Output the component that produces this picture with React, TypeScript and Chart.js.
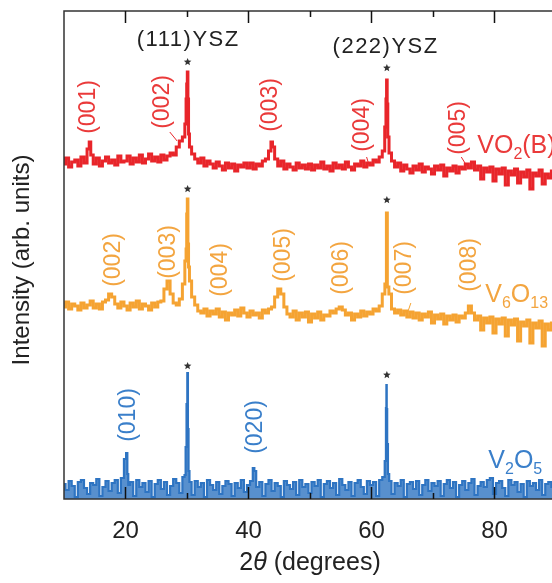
import React, { useEffect, useRef } from "react";
import { Chart, registerables } from "chart.js";

Chart.register(...registerables);

// 2θ grid: start 10°, step 0.5°
const twoThetaStart = 10;
const twoThetaStep = 0.5;
const twoThetaMin = 10;
const twoThetaMax = 89.35;
const tickValues = [20, 40, 60, 80];
const minorTickValues = [10, 30, 50, 70];

// intensities (arb. units, already offset per trace)
const redBase = [
  335, 341, 332, 337, 339, 333, 342, 336, 350, 344, 335, 341, 333, 338, 342, 336, 339, 334, 343, 337,
  338, 343, 335, 341, 337, 344, 336, 340, 345, 338, 342, 337, 344, 339, 343, 346, 344, 352, 358, 362,
  415, 352, 345, 340, 336, 341, 333, 338, 335, 331, 337, 333, 329, 336, 331, 335, 328, 334, 332, 336,
  331, 336, 330, 335, 333, 338, 340, 348, 352, 340, 333, 338, 330, 335, 332, 329, 336, 331, 334, 330,
  335, 329, 334, 331, 337, 330, 333, 328, 336, 331, 334, 330, 337, 332, 329, 335, 333, 338, 332, 336,
  334, 339, 337, 342, 348, 419, 346, 338, 332, 336, 328, 334, 330, 326, 333, 329, 335, 327, 332, 330,
  325, 333, 329, 334, 323, 331, 328, 333, 326, 332, 330, 335, 331, 337, 329, 333, 320, 331, 327, 332,
  318, 330, 325, 331, 314, 328, 324, 330, 316, 327, 322, 329, 310, 326, 323, 329, 315, 325, 321, 328, 318,
];
const redPeaks = [
  [14.2, 357], [29.8, 375], [29.9, 400], [30.1, 427], [30.2, 400], [30.3, 365],
  [43.8, 357], [62.3, 372], [62.4, 400], [62.6, 395], [62.7, 362],
];

const orangeBase = [
  192, 197, 190, 195, 193, 189, 196, 191, 194, 198, 191, 195, 190, 197, 199, 205, 202, 195, 191, 197,
  193, 189, 196, 192, 198, 190, 195, 193, 189, 196, 192, 197, 198, 210, 218, 205, 196, 194, 200, 215,
  285, 218, 202, 194, 188, 186, 190, 183, 188, 185, 190, 182, 187, 179, 186, 184, 189, 183, 191, 186,
  182, 188, 184, 186, 181, 189, 186, 190, 192, 202, 210, 205, 192, 185, 182, 188, 179, 186, 182, 187,
  177, 185, 181, 187, 179, 184, 183, 188, 186, 190, 192, 189, 184, 186, 179, 185, 182, 188, 183, 187,
  185, 190, 188, 193, 205, 286, 205, 190, 186, 189, 184, 188, 182, 187, 181, 186, 179, 185, 182, 187,
  176, 184, 180, 185, 175, 183, 179, 184, 177, 183, 181, 186, 193, 186, 179, 183, 169, 181, 176, 182,
  166, 180, 175, 181, 163, 179, 174, 180, 158, 177, 173, 179, 156, 176, 171, 178, 153, 175, 169, 176, 160,
];
const orangePeaks = [
  [29.8, 238], [29.9, 250], [30.1, 300], [30.2, 255], [30.3, 232],
  [62.35, 215], [62.65, 212],
];

const blueBase = [
  15, 9, 18, 13, 2, 17, 19, 11, 5, 16, 14, 20, 3, 12, 18, 8, 16, 19, 6, 21,
  40, 14, 17, 3, 19, 12, 16, 7, 18, 2, 15, 19, 10, 17, 4, 13, 20, 16, 6, 22,
  95, 17, 4, 18, 12, 16, 2, 19, 14, 9, 17, 5, 13, 18, 15, 3, 16, 11, 19, 7,
  14, 18, 28, 12, 17, 3, 15, 19, 8, 16, 13, 2, 18, 14, 10, 17, 4, 19, 12, 15,
  6, 17, 13, 19, 2, 15, 18, 11, 16, 4, 20, 14, 9, 17, 3, 16, 19, 12, 5, 18,
  14, 17, 3, 19, 22, 90, 18, 5, 16, 13, 19, 2, 15, 17, 10, 18, 4, 14, 19, 8,
  16, 13, 18, 3, 15, 19, 11, 17, 2, 14, 18, 9, 16, 20, 4, 13, 17, 12, 19, 21,
  5, 16, 18, 11, 3, 19, 14, 17, 7, 15, 2, 18, 13, 16, 9, 19, 4, 15, 17, 12, 14,
];
const bluePeaks = [
  [20.2, 46], [20.4, 25], [29.7, 24], [29.85, 52], [30.1, 126], [30.2, 70], [30.3, 28],
  [40.9, 31], [62.3, 38], [62.4, 91], [62.45, 114], [62.6, 55], [62.75, 25],
];

const seriesNames = ["VO2(B)", "V6O13", "V2O5"];
const seriesColors = ["#e8252a", "#f5a332", "#2e74c2"];
const blueFill = "rgba(46, 116, 194, 0.8)";
const labelColors = ["#ea3a3a", "#f3a540", "#3a7fca"];

// peak index labels: [text, 2θ, intensity]
const redLabels = [
  ["(001)", 14.0, 392], ["(002)", 26.0, 397], ["(003)", 43.6, 394], ["(004)", 58.5, 374], ["(005)", 74.1, 371],
];
const orangeLabels = [
  ["(002)", 18.0, 239], ["(003)", 27.0, 247], ["(004)", 35.4, 229], ["(005)", 45.7, 244],
  ["(006)", 55.1, 231], ["(007)", 65.4, 231], ["(008)", 75.9, 234],
];
const blueLabels = [["(010)", 20.5, 84], ["(020)", 41.1, 72]];

// leader lines [x1,y1],[x2,y2] in data units
const redLeaders = [[27.2, 367], [28.4, 358], [59.2, 342], [59.5, 336], [74.6, 342], [75.2, 336]];
const orangeLeaders = [[66.4, 196], [65.9, 187]];

// formula labels: parts [text, isSub], anchor 2θ, intensity (baseline)
const formulaParts = [
  [["VO", false], ["2", true], ["(B)", false]],
  [["V", false], ["6", true], ["O", false], ["13", true]],
  [["V", false], ["2", true], ["O", false], ["5", true]],
];
const formulaAnchors = [[77.2, 346], [78.5, 197], [79.0, 31]];

const starPositions = [[30.1, 437], [62.5, 431], [30.1, 310], [62.5, 299], [30.1, 133], [62.5, 124]];
const substrateLabels = [["(111)YSZ", 30.2, 453], ["(222)YSZ", 62.3, 446]];

const FONT = "'Liberation Sans', Arial, sans-serif";

function buildSeries(base: number[], peaks: number[][]) {
  const pts = base.map((y, i) => ({ x: twoThetaStart + i * twoThetaStep, y }));
  peaks.forEach(([x, y]) => pts.push({ x, y }));
  pts.sort((a, b) => a.x - b.x);
  return pts;
}

function drawStar(ctx: CanvasRenderingContext2D, cx: number, cy: number, r: number) {
  ctx.beginPath();
  for (let i = 0; i < 10; i++) {
    const ang = -Math.PI / 2 + (i * Math.PI) / 5;
    const rr = i % 2 === 0 ? r : r * 0.45;
    const px = cx + rr * Math.cos(ang);
    const py = cy + rr * Math.sin(ang);
    if (i === 0) ctx.moveTo(px, py);
    else ctx.lineTo(px, py);
  }
  ctx.closePath();
  ctx.fill();
}

const decorPlugin = {
  id: "decor",
  afterDraw(chart: any) {
    const ctx: CanvasRenderingContext2D = chart.ctx;
    const xs = chart.scales.x;
    const ys = chart.scales.y;
    const area = chart.chartArea;
    const X = (v: number) => xs.getPixelForValue(v);
    const Y = (v: number) => ys.getPixelForValue(v);
    ctx.save();

    // frame
    ctx.strokeStyle = "#333";
    ctx.lineWidth = 1.5;
    ctx.beginPath();
    ctx.moveTo(area.right + 2, area.top);
    ctx.lineTo(area.left, area.top);
    ctx.lineTo(area.left, area.bottom);
    ctx.lineTo(area.right + 2, area.bottom);
    ctx.stroke();

    // inward ticks
    ctx.strokeStyle = "#111";
    ctx.lineWidth = 1.5;
    const ticks = (vals: number[], len: number) => {
      vals.forEach((v) => {
        const px = Math.round(X(v)) + 0.5;
        ctx.beginPath();
        ctx.moveTo(px, area.top);
        ctx.lineTo(px, area.top + len);
        ctx.moveTo(px, area.bottom);
        ctx.lineTo(px, area.bottom - len);
        ctx.stroke();
      });
    };
    ticks(tickValues, 12);
    ticks(minorTickValues.filter((v) => v > twoThetaMin), 6);

    // tick labels
    ctx.fillStyle = "#222";
    ctx.font = `24px ${FONT}`;
    ctx.textAlign = "center";
    ctx.textBaseline = "alphabetic";
    tickValues.forEach((v) => ctx.fillText(String(v), X(v), 538));

    // x title: 2θ (degrees)
    const tx = 310;
    const ty = 570;
    ctx.font = `25px ${FONT}`;
    const w2 = ctx.measureText("2").width;
    ctx.font = `italic 25px ${FONT}`;
    const wt = ctx.measureText("θ").width;
    ctx.font = `25px ${FONT}`;
    const wr = ctx.measureText(" (degrees)").width;
    let cx = tx - (w2 + wt + wr) / 2;
    ctx.textAlign = "left";
    ctx.fillText("2", cx, ty);
    cx += w2;
    ctx.font = `italic 25px ${FONT}`;
    ctx.fillText("θ", cx, ty);
    cx += wt;
    ctx.font = `25px ${FONT}`;
    ctx.fillText(" (degrees)", cx, ty);

    // y title
    ctx.save();
    ctx.translate(22, 260);
    ctx.rotate(-Math.PI / 2);
    ctx.textAlign = "center";
    ctx.textBaseline = "middle";
    ctx.font = `24px ${FONT}`;
    ctx.fillText("Intensity (arb. units)", 0, 0);
    ctx.restore();

    // substrate labels
    ctx.fillStyle = "#222";
    ctx.font = `22px ${FONT}`;
    ctx.textAlign = "center";
    ctx.textBaseline = "alphabetic";
    (ctx as any).letterSpacing = "1.5px";
    substrateLabels.forEach(([t, x, y]) => ctx.fillText(t as string, X(x as number), Y(y as number)));
    (ctx as any).letterSpacing = "0px";

    // stars
    ctx.fillStyle = "#333";
    starPositions.forEach(([x, y]) => drawStar(ctx, X(x), Y(y), 4));

    // rotated peak labels
    const groups = [redLabels, orangeLabels, blueLabels];
    groups.forEach((g, gi) => {
      ctx.fillStyle = labelColors[gi];
      ctx.font = `23px ${FONT}`;
      g.forEach(([t, x, y]) => {
        ctx.save();
        ctx.translate(X(x as number), Y(y as number));
        ctx.rotate(-Math.PI / 2);
        ctx.textAlign = "center";
        ctx.textBaseline = "middle";
        ctx.fillText(t as string, 0, 0);
        ctx.restore();
      });
    });

    // leader lines
    ctx.lineWidth = 1;
    const leaders = (arr: number[][], color: string) => {
      ctx.strokeStyle = color;
      for (let i = 0; i + 1 < arr.length; i += 2) {
        ctx.beginPath();
        ctx.moveTo(X(arr[i][0]), Y(arr[i][1]));
        ctx.lineTo(X(arr[i + 1][0]), Y(arr[i + 1][1]));
        ctx.stroke();
      }
    };
    leaders(redLeaders, seriesColors[0]);
    leaders(orangeLeaders, seriesColors[1]);

    // formulas
    formulaParts.forEach((parts, fi) => {
      ctx.fillStyle = labelColors[fi];
      let px = X(formulaAnchors[fi][0]);
      const py = Y(formulaAnchors[fi][1]);
      ctx.textAlign = "left";
      ctx.textBaseline = "alphabetic";
      parts.forEach(([t, sub]) => {
        ctx.font = sub ? `16px ${FONT}` : `25px ${FONT}`;
        ctx.fillText(t as string, px, sub ? py + 6 : py);
        px += ctx.measureText(t as string).width;
      });
    });

    ctx.restore();
  },
};

export default function App() {
  const ref = useRef<HTMLCanvasElement | null>(null);
  useEffect(() => {
    document.body.style.margin = "0";
    document.body.style.overflow = "hidden";
    const canvas = ref.current;
    if (!canvas) return;
    const chart = new Chart(canvas, {
      type: "line",
      data: {
        datasets: [
          { label: seriesNames[0], data: buildSeries(redBase, redPeaks), borderColor: seriesColors[0], borderWidth: 3, pointRadius: 0, stepped: "middle" },
          { label: seriesNames[1], data: buildSeries(orangeBase, orangePeaks), borderColor: seriesColors[1], borderWidth: 3, pointRadius: 0, stepped: "middle" },
          { label: seriesNames[2], data: buildSeries(blueBase, bluePeaks), borderColor: seriesColors[2], backgroundColor: blueFill, fill: "origin", borderWidth: 2.2, pointRadius: 0, stepped: "middle" },
        ],
      },
      options: {
        animation: false,
        responsive: false,
        devicePixelRatio: 1,
        layout: { padding: { left: 64, top: 11, right: 0, bottom: 84 } },
        scales: {
          x: { type: "linear", min: twoThetaMin, max: twoThetaMax, display: false },
          y: { type: "linear", min: 0, max: 488, display: false },
        },
        plugins: { legend: { display: false }, tooltip: { enabled: false } },
      },
      plugins: [decorPlugin],
    });
    return () => chart.destroy();
  }, []);
  return (
    <div style={{ width: 552, height: 583, overflow: "hidden", background: "#fff" }}>
      <canvas ref={ref} width={552} height={583} style={{ display: "block", width: 552, height: 583 }} />
    </div>
  );
}
